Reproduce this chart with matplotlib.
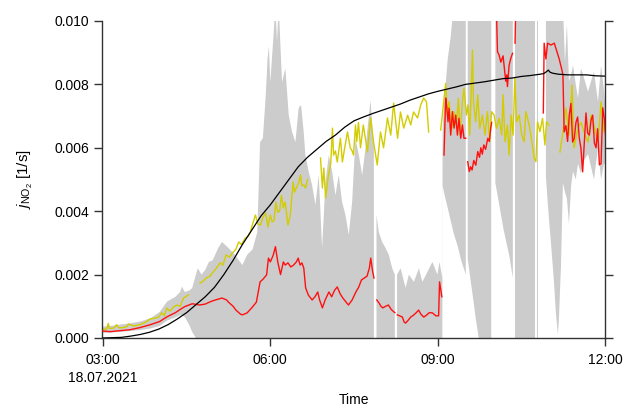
import numpy as np
import matplotlib
matplotlib.use("Agg")
import matplotlib.pyplot as plt

plt.rcParams["font.family"] = ["Liberation Sans", "DejaVu Sans"]
plt.rcParams["font.size"] = 10
plt.rcParams["mathtext.fontset"] = "custom"
plt.rcParams["mathtext.rm"] = "Liberation Sans"
plt.rcParams["mathtext.it"] = "Liberation Sans:italic"

nan = float("nan")
START = np.datetime64("2021-07-18T03:00")

# all times in minutes after 03:00, all values in 1e-3 1/s

# black: modelled j(NO2)
black_t = [0, 10, 20, 30, 40, 50, 60, 70, 80, 90, 100, 110, 120, 130, 140, 150,
           160, 170, 180, 190, 200, 210, 220, 230, 240, 250, 260, 270, 280, 290,
           300, 310, 320, 330, 340, 350, 360, 370, 380, 390, 400, 410, 420, 430,
           440, 450, 460, 470, 474, 477, 479, 481, 484, 490, 500, 510, 520, 530, 540]
black_v = [0.0, 0.01, 0.02, 0.06, 0.11, 0.18, 0.28, 0.42, 0.6, 0.8, 1.05, 1.3,
           1.6, 2.0, 2.45, 2.95, 3.4, 3.85, 4.2, 4.6, 5.0, 5.4, 5.7, 5.95, 6.2,
           6.4, 6.65, 6.85, 6.97, 7.08, 7.18, 7.28, 7.38, 7.5, 7.6, 7.7, 7.78,
           7.85, 7.92, 8.0, 8.04, 8.08, 8.13, 8.18, 8.2, 8.25, 8.28, 8.32, 8.34,
           8.4, 8.45, 8.38, 8.35, 8.32, 8.3, 8.3, 8.3, 8.27, 8.26]

# yellow series
yel_t = [0, 4, 5.7, 7, 12, 14.7, 17, 22, 26, 27.3, 33, 40, 46, 50.7, 55, 60,
         63.3, 66, 68.7, 72, 76, 79.4, 83, 86.6, 89, 92,
         98,
         104.5, 108, 111, 115, 118.5, 122, 126, 129, 132.5, 136, 140, 143, 146,
         149, 153, 156, 158.5, 161, 164, 166.5, 169.5, 172, 175, 177.5, 180,
         182, 184, 186, 188, 190, 192, 194, 196, 199, 201.5, 204.5, 206, 208,
         210.5, 212.5, 214, 216, 218, 220,
         227,
         234, 236, 237.5, 239.5, 242.5, 245, 246.8, 248, 250, 252, 255.4, 257.5,
         260, 263, 266, 268, 269.5, 271.6, 273, 274.8, 277, 280, 284.5, 287.8,
         291, 295, 298.5, 301.8, 306, 309.5, 312.6, 316.9, 320, 323.5, 327.7,
         331, 334, 338.4, 341.7, 344.9, 348, 350.3,
         356,
         363.2, 365.0, 366.8, 368.6, 370.4, 372.2, 375.1, 377.6, 380.1, 382.3,
         384.0, 386.6, 388.3, 390.9, 392.6, 394.5, 397.4, 398.5, 400.9, 403.1,
         405.2, 408.1, 410.9, 413.5, 416.0, 417.9, 420.7, 423.2, 426.0, 428.9,
         430.3, 432.5, 435.1, 436.8, 439.0, 441.1, 443.0, 444.8, 447.6, 450.5,
         453.0, 454.8, 458.4, 461.3, 463.8, 465.6, 467.4, 469.9, 472.8, 475.3,
         477.1, 479.3,
         485,
         491.5, 494.7, 497.9, 501.2, 504.5, 506.6, 510.9, 514.1, 517.4, 521.7,
         524.9, 528.1, 532.4, 535.7, 538.9, 541]
yel_v = [0.28, 0.28, 0.46, 0.3, 0.32, 0.42, 0.32, 0.33, 0.36, 0.44, 0.38, 0.42,
         0.5, 0.6, 0.62, 0.66, 0.8, 0.7, 0.94, 0.85, 0.98, 1.04, 1.0, 1.26, 1.3,
         1.36,
         nan,
         1.73, 1.8, 1.89, 1.95, 2.08, 2.2, 2.37, 2.3, 2.62, 2.55, 2.71, 2.8,
         3.03, 2.95, 3.15, 3.2, 3.34, 3.6, 3.88, 3.6, 3.56, 3.8, 3.94, 3.5,
         3.88, 3.66, 3.7, 4.29, 3.97, 4.0, 4.5, 4.1, 4.29, 3.56, 3.88, 4.92,
         4.6, 4.73, 4.9, 5.14, 4.8, 4.83, 4.73, 5.0,
         nan,
         5.68, 4.73, 5.36, 4.42, 5.14, 5.5, 6.62, 5.77, 5.9, 5.55, 6.3, 5.55,
         6.0, 6.5, 6.0, 5.9, 5.77, 6.72, 6.2, 6.8, 6.0, 6.72, 5.87, 6.94, 6.18,
         5.46, 6.5, 6.0, 6.94, 6.4, 7.41, 6.3, 7.13, 6.62, 7.03, 6.72, 7.13,
         6.94, 7.35, 7.57, 7.45, 6.5,
         nan,
         6.56, 7.03, 7.56, 8.03, 7.03, 7.46, 6.56, 7.14, 6.72, 7.56, 6.4, 7.46,
         7.88, 7.03, 7.35, 6.4, 9.08, 7.46, 6.82, 7.67, 6.61, 7.03, 6.4, 7.14,
         6.19, 7.14, 7.03, 6.61, 6.93, 6.4, 7.67, 6.19, 6.72, 5.77, 7.03, 6.4,
         8.19, 6.82, 7.03, 6.4, 6.19, 7.14, 6.72, 6.19, 5.67, 5.56, 6.82, 6.51,
         6.93, 6.09, 6.82, 6.72,
         nan,
         5.87, 6.5, 7.26, 6.4, 7.98, 6.0, 6.62, 6.8, 6.5, 6.18, 7.03, 6.72,
         6.18, 7.45, 6.5, 6.8]

# red series
red_t = [0, 7.5, 18, 29, 40, 51, 61, 69, 78, 83, 88, 96, 104, 110, 116, 121,
         128, 133, 135, 140, 143, 148, 150, 155, 160, 165, 169, 172, 176, 178,
         180, 183, 185.5, 188, 191, 194, 196, 199, 202, 205, 208, 210, 212, 214,
         216, 218, 221, 225, 228, 231, 233, 236, 239, 243, 246, 249, 252, 255,
         258, 261, 264, 268, 272, 275, 278, 281, 284, 286.5, 288, 290, 291.5,
         293,
         294.5, 297, 299, 301, 304, 307, 310, 313, 314,
         315.3,
         316.5, 319, 322, 324, 325.5, 328, 331, 334, 337, 339.5, 342, 345, 348,
         351, 354.5, 358, 361, 362, 363.5, 364.5,
         366,
         366.8, 368.6, 369.7, 371.1, 372.2, 374, 375.8, 377.6, 379.4, 381.2,
         382.9, 384.8, 386.6, 388.3, 390.2,
         391.3,
         392.3, 394, 395.5, 397, 398.8, 401, 403.1, 405, 406.4, 408, 409.6,
         411.5, 413.9, 415.5, 417.1, 418,
         420,
         422.8, 424.3, 426, 427.9, 430.3, 433.2, 434.3, 435, 436.8, 438.6, 440.5,
         441.7,
         443.2, 444.2,
         460,
         473.6, 474.5, 476.4, 478.2, 481.8, 485.4, 489, 490.7, 493.6, 494.7,
         496, 497.9, 499.7, 501.5, 503.3, 505.1, 506.9, 508.7, 510.5, 512.3,
         514, 515.9, 517.7, 519.5, 521.3, 523.1, 525, 526.7, 528.5, 530.3, 532,
         533.9, 535.7, 537.5, 539.3, 541]
red_v = [0.22, 0.2, 0.23, 0.26, 0.33, 0.42, 0.52, 0.67, 0.8, 0.9, 0.99, 1.08,
         1.04, 1.07, 1.15, 1.2, 1.26, 1.2, 1.13, 1.0, 0.88, 0.75, 0.73, 0.79,
         0.95, 1.13, 1.77, 1.85, 1.99, 2.52, 2.4, 2.6, 2.88, 2.4, 2.0, 2.4, 2.3,
         2.37, 2.24, 2.3, 2.4, 2.52, 2.3, 2.37, 2.2, 1.58, 1.35, 1.2, 1.3, 1.45,
         1.2, 0.95, 1.2, 1.45, 1.3, 1.5, 1.61, 1.4, 1.26, 1.15, 1.04, 1.2, 1.45,
         1.6, 1.83, 1.89, 1.95, 2.2, 2.52, 2.1, 1.89,
         nan,
         1.2, 1.1, 1.0, 0.95, 1.0, 1.04, 0.9, 0.82, 0.8,
         nan,
         0.73, 0.7, 0.66, 0.5, 0.47, 0.55, 0.66, 0.72, 0.8, 0.88, 0.75, 0.66,
         0.72, 0.8, 0.79, 0.7, 0.7, 1.77, 1.5, 1.3,
         nan,
         5.77, 7.57, 7.3, 6.82, 7.25, 6.4, 7.14, 6.62, 7.03, 6.4, 6.93, 6.3,
         6.72, 6.3, 6.3,
         nan,
         5.56, 5.25, 5.4, 5.3, 5.6, 5.45, 5.88, 5.7, 6.0, 5.8, 6.09, 5.95, 6.3,
         6.2, 6.62, 6.8,
         nan,
         10.8, 9.03, 8.93, 8.7, 8.9, 8.1, 8.3, 7.93, 8.6, 8.82, 8.98,
         nan,
         9.3, 10.8,
         nan,
         7.1, 9.3, 8.8, 9.3, 9.24, 9.3, 8.96, 8.8, 8.45, 8.3,
         6.5, 6.7, 6.2, 7.03, 7.4, 6.18, 6.3, 6.8, 6.97, 6.3, 6.0, 5.24, 6.2,
         7.1, 6.46, 6.4, 6.88, 7.03, 6.15, 6.0, 6.6, 5.46, 5.5, 7.26, 6.9, 6.18]

# grey band (range), lower and upper edge
band_t = [0, 8, 18, 29, 40, 51, 61, 69, 78, 83, 85, 88, 93, 96, 100, 102, 106,
          110, 114, 118, 124, 128, 131, 135, 142, 150, 155, 161, 166, 169, 172,
          175, 177, 178.5, 180, 183.5, 185.4, 187.2, 189, 192.6, 196.2, 199.8,
          203.4, 207, 210.5, 213.1, 215.9, 217.7, 221.3, 224.9, 228.5, 232.1,
          235.7, 239.3, 242.9, 246.5, 250.1, 253.6, 257.2, 260.8, 264.4, 268,
          271.6, 275.2, 278.8, 282.4, 287.8, 291.4,
          293,
          294.2, 296.7, 300.3, 303.9, 307.5, 311.1, 313.9,
          315,
          316.3, 320.1, 325.5, 329, 334.4, 339.8, 343.5, 348.9, 354.3, 359.7,
          362, 365, 365.3, 367.5, 370.8, 374, 377.2, 381.5, 384.8, 388, 390.2,
          391.3,
          392.3, 395.5, 398.8, 401, 404.2, 417.6,
          420,
          422, 425, 428, 431, 434, 437, 440.8,
          442,
          443, 464.5,
          465.6,
          466.7, 468.3,
          472,
          476.4, 478.5, 481.8, 485, 487.1, 489.3, 490.4, 492.6, 494.7, 496.9,
          499, 501.2, 503.5, 505.5, 508.5, 510.9, 514.1, 517.4, 521.7, 524.9,
          528.1, 532.4, 535.7, 538.9, 541]
band_lo = [0.16, 0.17, 0.19, 0.22, 0.25, 0.3, 0.38, 0.55, 0.65, 0.72, 0.72,
           0.66, 0.4, 0.19, 0, 0, 0, 0, 0, 0, 0, 0, 0, 0, 0, 0, 0, 0, 0, 0, 0,
           0, 0, 0, 0, 0, 0, 0, 0, 0, 0, 0, 0, 0, 0, 0, 0, 0, 0, 0, 0, 0, 0, 0,
           0, 0, 0, 0, 0, 0, 0, 0, 0, 0, 0, 0, 0, 0,
           nan,
           0, 0, 0, 0, 0, 0, 0,
           nan,
           0, 0, 0, 0, 0, 0, 0, 0, 0, 0, 0, 0, 4.8, 4.5, 4.1, 3.7, 3.3, 2.9,
           2.5, 2.2, 2.0,
           nan,
           2.5, 1.8, 1.1, 0.6, 0, 0,
           nan,
           4.9, 4.4, 3.9, 3.4, 3.0, 2.6, 1.9,
           nan,
           0, 0,
           nan,
           0, 0,
           nan,
           5.1, 4.2, 3.0, 1.8, 0.8, 0.1, 0.6, 2.3, 4.9, 4.6, 4.4, 3.6, 4.8,
           5.25, 5.0, 5.5, 5.2, 5.6, 5.8, 5.4, 5.0, 6.0, 5.0, 5.5, 5.5]
band_hi = [0.36, 0.38, 0.42, 0.46, 0.52, 0.62, 0.82, 1.15, 1.3, 1.45, 1.62,
           1.45, 1.5, 1.58, 2.0, 2.2, 2.0, 2.15, 2.4, 2.45, 2.84, 3.03, 2.95,
           2.84, 2.62, 2.3, 2.62, 2.8, 3.34, 6.18, 6.3, 7.6, 8.8, 9.2, 8.07,
           9.56, 10.5, 9.34, 10.5, 8.07, 8.5, 7.03, 6.5, 6.18, 7.26, 7.35, 6.5,
           5.77, 5.24, 4.83, 4.2, 5.14, 2.84, 4.92, 5.77, 5.24, 4.5, 5.14, 4.29,
           3.88, 3.25, 4.29, 6.3, 5.77, 5.14, 6.0, 7.5, 6.0,
           nan,
           3.88, 3.34, 3.03, 2.84, 2.62, 2.2, 2.0,
           nan,
           2.0, 2.2, 1.58, 2.0, 1.77, 2.2, 1.77, 2.08, 2.4, 2.0, 2.4, 1.9, 6.6,
           7.6, 8.8, 9.5, 10.5, 10.5, 10.5, 10.5, 10.5,
           nan,
           10.5, 10.5, 10.5, 10.5, 10.5, 10.5,
           nan,
           10.5, 10.5, 10.5, 10.5, 10.5, 10.5, 10.5,
           nan,
           10.5, 10.5,
           nan,
           10.5, 10.5,
           nan,
           10.5, 10.5, 10.5, 10.5, 10.5, 10.5, 10.5, 10.5, 10.5, 8.7, 9.9, 8.1,
           8.3, 8.6, 8.0, 7.57, 8.5, 8.2, 7.77, 8.1, 8.4, 7.45, 8.6, 7.8, 7.03]

tick_min = [0, 180, 360, 540]
tick_labels = ["03:00\n18.07.2021", "06:00", "09:00", "12:00"]
y_ticks = [0.0, 0.002, 0.004, 0.006, 0.008, 0.010]


def to_time(minutes):
    sec = np.round(np.asarray(minutes, dtype=float) * 60).astype("int64")
    return START + sec.astype("timedelta64[s]")


def scaled(values):
    return np.asarray(values, dtype=float) * 1e-3


fig = plt.figure(figsize=(6.27, 4.08), dpi=100)
ax = fig.add_axes([0.1627, 0.1716, 0.8023, 0.7770])

ax.fill_between(to_time(band_t), scaled(band_lo), scaled(band_hi),
                color="#cccccc", linewidth=0, zorder=1)
ax.plot(to_time(yel_t), scaled(yel_v), color="#d2cc00", linewidth=1.0, zorder=2)
ax.plot(to_time(red_t), scaled(red_v), color="#ff1010", linewidth=1.0, zorder=3)
ax.plot(to_time(black_t), scaled(black_v), color="black", linewidth=0.9, zorder=4)

ax.set_xlim(to_time(-1), to_time(540))
ax.set_ylim(0, 0.010)

ax.set_xticks(to_time(tick_min))
ax.set_xticklabels(tick_labels, linespacing=1.35)
ax.set_yticks(y_ticks)
ax.set_yticklabels([f"{v:.3f}" for v in y_ticks])

ax.spines["top"].set_visible(False)
for side in ("left", "bottom", "right"):
    ax.spines[side].set_color("#333333")
    ax.spines[side].set_linewidth(1.0)
ax.tick_params(axis="both", direction="out", length=6, width=1.0,
               color="#333333", pad=3, labelsize=10)
ax.tick_params(axis="x", pad=5)
ax.tick_params(axis="y", right=True, labelright=False)

ax.set_xlabel("Time", labelpad=6)
ax.set_ylabel(r"$j_{\mathrm{NO_2}}$ [1/s]", fontsize=11, labelpad=14)

fig.savefig("out.png", dpi=100)
